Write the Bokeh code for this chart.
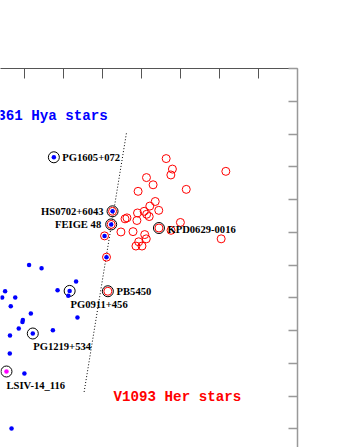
from bokeh.plotting import figure
from bokeh.models import Range1d, FixedTicker, ColumnDataSource
from bokeh.core.properties import value
from bokeh.embed import file_html
from bokeh.resources import INLINE

# ---------------- data (Teff in kK, log g) ----------------
# V1093 Her stars (red open circles)
her_teff = [26.75, 26.43, 26.51, 23.69, 27.76, 27.42, 25.72, 28.19, 27.31, 27.59,
            27.13, 27.88, 27.75, 28.22, 27.62, 28.86, 28.76, 28.25, 26.02, 27.12,
            26.50, 29.07, 28.45, 27.85, 27.77, 28.16, 28.30, 27.99, 23.93, 29.74]
her_logg = [5.275, 5.307, 5.325, 5.314, 5.333, 5.355, 5.369, 5.375, 5.406, 5.420,
            5.433, 5.436, 5.445, 5.441, 5.452, 5.459, 5.456, 5.464, 5.470, 5.487,
            5.494, 5.499, 5.498, 5.507, 5.520, 5.529, 5.542, 5.542, 5.520, 5.680]

# hybrid pulsators (red circle with blue dot)
hyb_teff = [29.50, 29.57, 29.91, 29.81]
hyb_logg = [5.436, 5.476, 5.511, 5.576]

# V361 Hya stars (blue dots)
hya_teff = [32.51, 33.78, 33.14, 31.37, 35.01, 32.32, 31.70, 35.16, 34.49, 31.77,
            34.72, 33.69, 34.10, 34.12, 31.30, 34.31, 33.59, 32.56, 34.76, 34.77,
            34.02, 34.68]
hya_logg = [5.271, 5.600, 5.610, 5.650, 5.680, 5.677, 5.679, 5.699, 5.699, 5.694,
            5.726, 5.748, 5.768, 5.774, 5.760, 5.794, 5.809, 5.799, 5.815, 5.870,
            5.931, 6.099]

# LSIV-14 116 (magenta dot)
mag_teff = [34.94]
mag_logg = [5.925]

# labelled stars (black rings)
lab_names = ["PG1605+072", "HS0702+6043", "FEIGE 48", "KPD0629-0016", "PB5450",
             "PG0911+456", "PG1219+534", "LSIV-14_116"]
lab_teff = [32.51, 29.50, 29.57, 27.12, 29.74, 31.70, 33.59, 34.94]
lab_logg = [5.271, 5.436, 5.476, 5.487, 5.680, 5.679, 5.809, 5.925]

# dividing line between the two classes
div_teff = [28.79, 30.97]
div_logg = [5.198, 5.992]

# class titles
title_text = ["V361 Hya stars", "V1093 Her stars"]
title_teff = [29.74, 29.45]
title_logg = [5.145, 6.002]

# tick values
teff_ticks = [20, 22, 24, 26, 28, 30, 32, 34, 36, 38, 40]
logg_ticks = [5.0, 5.1, 5.2, 5.3, 5.4, 5.5, 5.6, 5.7, 5.8, 5.9, 6.0, 6.1]

# ---------------- styling of labels ----------------
lab_dx = [8.4, -9.0, -10.0, 8.5, 8.7, 0.8, 0.4, 0.0]
lab_dy = [0.0, 0.0, 0.5, 1.0, 0.0, 13.5, 13.4, 13.7]
lab_align = ["left", "right", "right", "left", "left", "left", "left", "left"]

p = figure(width=348, height=447, output_backend="svg", toolbar_location=None,
           x_axis_location="above", y_axis_location="right",
           x_range=Range1d(35.246, 20.015), y_range=Range1d(6.157, 5.0),
           min_border_left=0, min_border_bottom=0, min_border_top=68,
           min_border_right=51, background_fill_color="white",
           border_fill_color="white", outline_line_color=None)
p.grid.visible = False

xa = p.xaxis[0]
xa.ticker = FixedTicker(ticks=teff_ticks)
xa.major_tick_in = 10
xa.major_tick_out = 0
xa.minor_tick_line_color = None
xa.axis_line_color = "#555555"
xa.major_tick_line_color = "#555555"
xa.major_label_text_color = None

ya = p.yaxis[0]
ya.ticker = FixedTicker(ticks=logg_ticks)
ya.major_tick_in = 9
ya.major_tick_out = 0
ya.minor_tick_line_color = None
ya.axis_line_color = "#999999"
ya.axis_line_width = 1.5
ya.major_tick_line_color = "#999999"
ya.major_tick_line_width = 1.5
ya.major_label_text_color = None

# dividing dotted line
p.line(div_teff, div_logg, line_color="black", line_width=1, line_dash="1 2")

# red open circles
p.scatter(her_teff, her_logg, size=8, marker="circle", fill_color=None,
          line_color="#ff0000", line_width=1)
p.scatter(hyb_teff, hyb_logg, size=8, marker="circle", fill_color=None,
          line_color="#ff0000", line_width=1)

# black rings
p.scatter(lab_teff, lab_logg, size=11, marker="circle", fill_color=None,
          line_color="black", line_width=1)

# blue dots
p.scatter(hya_teff, hya_logg, size=4.5, marker="circle", fill_color="#0000ff",
          line_color=None)
p.scatter(hyb_teff, hyb_logg, size=4.5, marker="circle", fill_color="#0000ff",
          line_color=None)
p.scatter(mag_teff, mag_logg, size=4.5, marker="circle", fill_color="#ff00ff",
          line_color=None)

# star labels
for align in ("left", "right"):
    idx = [i for i, a in enumerate(lab_align) if a == align]
    src = ColumnDataSource(dict(
        x=[lab_teff[i] for i in idx], y=[lab_logg[i] for i in idx],
        t=[lab_names[i] for i in idx], dx=[lab_dx[i] for i in idx],
        dy=[lab_dy[i] for i in idx]))
    p.text(x="x", y="y", text="t", x_offset="dx", y_offset="dy", source=src,
           text_font=value("Liberation Serif"), text_font_style="bold",
           text_font_size="10.6px", text_align=align, text_baseline="middle",
           text_color="black")

# class titles
p.text(x=title_teff[:1], y=title_logg[:1], text=title_text[:1],
       text_font=value("Liberation Mono"), text_font_size="14.2px",
       text_font_style="bold",
       text_align="right", text_baseline="alphabetic", text_color="#0000ff")
p.text(x=title_teff[1:], y=title_logg[1:], text=title_text[1:],
       text_font=value("Liberation Mono"), text_font_size="14.2px",
       text_font_style="bold",
       text_align="left", text_baseline="alphabetic", text_color="#ff0000")

open("out.html", "w").write(file_html(p, INLINE))
